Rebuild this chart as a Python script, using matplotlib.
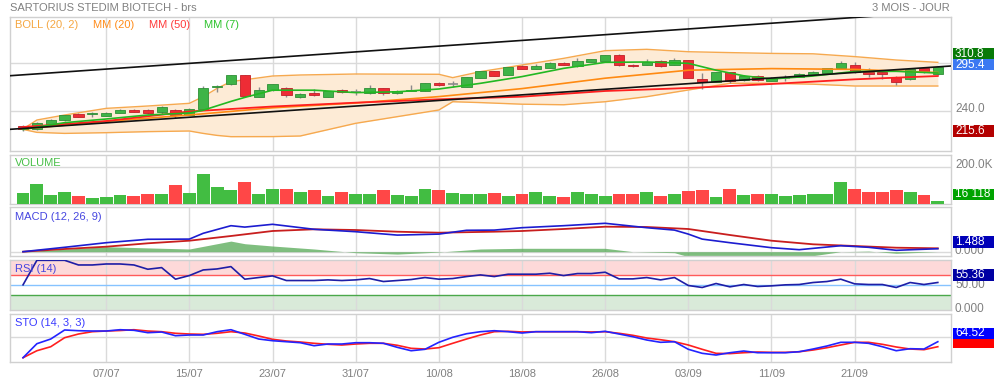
import matplotlib
matplotlib.use("Agg")
import matplotlib.pyplot as plt
import numpy as np
import pandas as pd
from matplotlib.patches import Rectangle

plt.rcParams['font.family'] = ['Liberation Sans', 'DejaVu Sans']

# ---------------- data ----------------
dates = pd.bdate_range('2020-06-29', '2020-09-29')
tick_labels = ["07/07", "15/07", "23/07", "31/07", "10/08", "18/08",
               "26/08", "03/09", "11/09", "21/09"]

opens = [221.3, 217.1, 222.5, 229, 236.3, 236, 234.2, 237.5, 241.2, 241.2,
         238.4, 241.2, 235, 242.1, 269.6, 273.75, 285, 258, 266.3, 269,
         258, 263, 258, 266, 263.5, 262, 268.3, 262, 265.2, 265,
         275.4, 273.3, 270.4, 281.7, 290, 285, 296.2, 293, 294.2, 300,
         296.25, 301.7, 303, 310, 298, 298, 302.5, 298, 303.3, 279.6,
         276.7, 288.4, 278.75, 283.75, 278, 281.7, 283, 285, 287, 294.2,
         297.5, 289, 288.75, 283, 279.6, 293.3, 286]
highs = [222.5, 226.6, 229.5, 235.5, 237, 238.5, 238.5, 242, 242.5, 242,
         246, 242, 243.3, 271, 272.9, 285.5, 285.5, 269.6, 274, 270,
         262, 267, 265.5, 267, 267, 272.5, 269, 266.5, 272.5, 275,
         276.5, 277, 282.5, 290.5, 290.5, 295.5, 297, 299, 301, 301,
         306, 305.5, 310.5, 310.8, 298.5, 304.5, 303.5, 306.5, 304, 288,
         289, 289, 285, 285, 282.5, 285, 287.5, 289.5, 293.8, 302.5,
         301.5, 293.5, 289.5, 283.5, 292.5, 294, 296]
lows = [215.6, 216, 221.5, 227.5, 232.5, 232, 233.5, 237, 238.5, 236.5,
        236, 230.8, 234.5, 241.5, 264.2, 273, 258, 257.5, 265.5, 257.9,
        255.8, 259, 257.5, 263, 260, 261.5, 260, 261.5, 264.5, 264.5,
        271.5, 270, 270, 281, 283.5, 284.5, 292.5, 292.5, 293.5, 297,
        295.5, 301, 302.5, 296.5, 294.5, 297.5, 295.5, 297.5, 281, 267,
        276, 275, 278, 277, 277.5, 277.5, 282.5, 284.5, 286.5, 293.5,
        288, 282, 280, 272.5, 279, 288, 285.5]
closes = [217.1, 225.4, 228.8, 235, 233, 237.9, 237.9, 241.2, 239.3, 237.1,
          245, 235, 242.5, 268.3, 271.7, 285, 258.75, 266, 273.75, 259.6,
          261, 259.6, 265, 263.4, 263.5, 268.3, 262, 265, 266.2, 274.6,
          272, 273.3, 282.1, 290, 284.2, 295, 293, 296.2, 300.4, 297.5,
          303, 305, 310, 297.1, 296, 301.25, 296.25, 303.75, 281.7, 276.7,
          288.4, 277.5, 283.75, 278.75, 281.7, 281.7, 286, 289, 293.3, 299.6,
          288.4, 286, 285.9, 276, 292, 288.4, 295.4]

# Bollinger bands (20, 2)
band_idx = [0, 1, 3, 6, 9, 12, 13, 14, 15, 18, 20, 24, 30, 31, 33, 36, 39,
            42, 45, 48, 51, 54, 57, 60, 63, 66]
boll_upper = [217.5, 228.75, 235, 243.3, 246.25, 249.6, 257.9, 268.3, 276.7,
              283.75, 285, 286.25, 285.9, 281.7, 289.2, 297.5, 305.8, 315.4,
              317.1, 314.1, 313, 312, 311.5, 308, 303.75, 300.8]
boll_lower = [217, 213.3, 212, 212.9, 214.2, 215, 212, 209.5, 207.9, 208,
              208.75, 224.6, 241.25, 251.6, 250.5, 248.5, 247.8, 251.6, 257.9,
              266.25, 274.6, 274.6, 273.5, 271.25, 271.25, 271.25]

mm20_idx = [0, 6, 12, 18, 24, 30, 36, 42, 48, 54, 60, 66]
mm20 = [217.5, 227, 235, 244, 250, 258, 268, 281, 291, 293, 292, 288]

mm50_idx = [0, 6, 12, 15, 18, 24, 30, 36, 42, 48, 54, 60, 66]
mm50 = [220, 227.5, 239.4, 242.5, 245.6, 250.4, 254.6, 257.9, 265, 268.75,
        273.75, 279.6, 283.75]

mm7_idx = [0, 3, 6, 9, 12, 13, 15, 16, 18, 21, 24, 27, 30, 33, 36, 39, 42,
           45, 48, 50, 52, 54, 57, 60, 63, 66]
mm7 = [217, 225.4, 230, 235, 237.5, 241, 252, 257, 266, 266, 263, 264,
       267.5, 274.6, 283, 293.3, 300.8, 301.25, 299.6, 291, 284, 280,
       283.75, 289.5, 289.6, 287.5]

trend_upper_x = [-0.94, 62.6]
trend_upper_y = [284.1, 360.0]
trend_lower_x = [-0.94, 66.93]
trend_lower_y = [217.1, 296.25]

volume_k = [59, 107, 48, 68, 44, 35, 41, 48, 44, 55.5,
            57, 104, 59, 165, 92.5, 78, 120, 57, 83, 80,
            68, 78, 44, 63, 57, 57, 78, 48, 44, 80,
            74, 61, 54, 54, 61, 46, 54, 63, 43, 41,
            63, 57, 44, 54, 54, 67, 46, 54, 70, 76,
            39, 80, 48, 54, 54, 43, 48, 54, 54, 118,
            80, 63, 68, 78, 68, 48, 16.1]
volume_dir = ("GGGGRGGGRR" "GRGGGGRGGR" "GRGRGGRGGG" "RGGGRGRGGR"
              "GGGRRGRGRR" "GRGRGGGGGG" "RRRRGRG")

macd_idx = [0, 3, 6, 9, 12, 13, 15, 16, 18, 21, 24, 27, 30, 32, 34, 36, 39,
            42, 45, 47, 48, 49, 51, 54, 56, 59, 61, 63, 66]
macd = [0, 2.2, 4.5, 6.2, 6.3, 9.2, 13, 12.3, 13.7, 11.2, 10, 8.3, 8.8,
        10.7, 10.8, 12, 13, 14.2, 12, 10.8, 8.8, 6.3, 4.5, 2, 1, 3, 2.2,
        0.7, 1.488]
signal_idx = [0, 3, 6, 9, 12, 15, 18, 21, 24, 27, 30, 34, 36, 39, 42, 45,
              48, 51, 54, 57, 60, 63, 66]
signal = [0, 1.35, 2.5, 4.2, 5.5, 7.85, 10.35, 11.2, 10.85, 10, 9.5, 10,
          10.35, 11.35, 12.5, 12.35, 11.35, 8.35, 5.5, 3.7, 2.85, 2, 1.7]
hist_idx = [0, 6, 9, 12, 15, 16, 18, 21, 24, 27, 30, 33, 36, 39, 42, 44, 47,
            48, 51, 54, 57, 59, 61, 63, 66]
hist = [0, 2.5, 1.9, 1.35, 5.3, 4, 2.85, 1.35, -0.5, -1.2, -0.2, 1.35, 1.7,
        1.7, 1.7, 0, -0.5, -2.5, -3.8, -3.5, -2.0, 0, 0.3, -0.8, 0]

rsi = [50.6, 100, 100, 100, 90.6, 90.6, 92.6, 92.6, 90.6, 82,
       85.3, 62, 69.3, 80.6, 82.6, 87.3, 62, 65.3, 68.6, 59.3,
       59.3, 59.3, 60.6, 59.3, 60.6, 63.3, 57.3, 59.3, 61.3, 65.3,
       62, 63.3, 67.3, 70.6, 67.3, 72, 72, 72, 74, 69.3,
       73.3, 73.3, 76, 62.6, 62.6, 65.3, 60.6, 65.3, 49.3, 45.3,
       53.3, 46.6, 51.3, 47.3, 48.6, 50.6, 51.3, 55.3, 57.3, 62,
       52.6, 51.3, 51.3, 45.3, 55.3, 51.3, 55.36]

sto_k = [19.4, 58.9, 72.1, 97.5, 95.5, 94.6, 94.6, 98.3, 96.6, 89.9,
         91.8, 81.4, 83.4, 83.4, 92.7, 98.3, 85.3, 72.1, 67.3, 64.5,
         61.7, 53.2, 58, 58, 61.7, 61.7, 60, 48.7, 39.1, 43.1,
         62.8, 76.9, 87, 92.7, 95.5, 92.7, 89, 92.7, 92.7, 92.7,
         92.7, 89.9, 93.8, 86.2, 78.6, 69.3, 62.8, 64.5, 43.1, 31.8,
         27.0, 33.5, 38.3, 33.5, 33.5, 33.5, 36.3, 43.9, 52.4, 62.8,
         62.8, 60, 50.4, 39.1, 44.8, 43.9, 64.52]
sto_d = [19.4, 39.1, 50.4, 75.8, 86.2, 92.7, 94.6, 96, 98.3, 94.6,
         92.7, 88.2, 86.2, 85.3, 88.2, 92.7, 89, 80.6, 71.3, 66.5,
         63.7, 60, 57.2, 55.2, 58, 60, 60, 54.4, 45.9, 43.9,
         47.6, 60, 72.1, 83.4, 92.7, 93.8, 92, 92.7, 92.7, 92.7,
         92.7, 92, 92.7, 88.2, 82.5, 74.9, 70.1, 64.5, 55.2, 43.1,
         31.8, 31, 33.5, 35.5, 34.5, 34.5, 36.3, 41.1, 47.6, 55.2,
         62.8, 62.8, 57.2, 49.6, 43.9, 42, 50.4]

# ---------------- layout ----------------
W, H = 995, 383
fig = plt.figure(figsize=(W / 100, H / 100), dpi=100)
fig.patch.set_facecolor('white')
X0, X1 = 10, 950.7
idx = np.arange(len(closes))
day_str = list(dates.strftime('%d/%m'))
tick_pos = [day_str.index(t) for t in tick_labels]

GRID = '#dadada'
SPINE = '#d0d0d0'
GRAY = '#808080'


def make_ax(top, bottom, ylim, yticks):
    ax = fig.add_axes([X0 / W, 1 - bottom / H, (X1 - X0) / W, (bottom - top) / H])
    ax.set_xlim(-0.94, 66.93)
    ax.set_ylim(*ylim)
    ax.set_xticks(tick_pos)
    ax.set_yticks(yticks)
    ax.grid(True, color=GRID, lw=1)
    ax.set_axisbelow(True)
    ax.tick_params(length=0, labelleft=False, labelbottom=False)
    for s in ax.spines.values():
        s.set_color(SPINE)
        s.set_linewidth(1)
    return ax


ax_p = make_ax(17, 151, (190, 357.5), [240, 300])
ax_v = make_ax(155, 204, (0, 268), [200])
ax_m = make_ax(207, 256, (-2.15, 22.35), [0])
ax_r = make_ax(260, 309.5, (1, 100.6), [])
ax_s = make_ax(313.7, 362.3, (6.5, 143.4), [77])

# ---------------- price panel ----------------
ax_p.fill_between(band_idx, boll_lower, boll_upper, color='#fdebd6', lw=0, zorder=1)
ax_p.plot(band_idx, boll_upper, color='#f6a94f', lw=1.0, zorder=2)
ax_p.plot(band_idx, boll_lower, color='#f6a94f', lw=1.0, zorder=2)

GREEN = '#3fb447'
GREEN_E = '#2e8f36'
RED = '#ee2c35'
RED_E = '#c11f27'
for i in idx:
    o, h, l, c = opens[i], highs[i], lows[i], closes[i]
    ax_p.vlines(i, l, h, color='#8a8a8a', lw=1, zorder=3)
    if c > o:
        ax_p.bar(i, c - o, bottom=o, width=0.74, color=GREEN, edgecolor=GREEN_E,
                 lw=0.6, zorder=4)
    elif c < o:
        ax_p.bar(i, o - c, bottom=c, width=0.74, color=RED, edgecolor=RED_E,
                 lw=0.6, zorder=4)
    else:
        ax_p.hlines(o, i - 0.37, i + 0.37, color='#8a8a8a', lw=1.2, zorder=4)

ax_p.plot(mm20_idx, mm20, color='#ff8a12', lw=1.2, zorder=5)
ax_p.plot(mm50_idx, mm50, color='#ff1f1f', lw=1.3, zorder=5)
ax_p.plot(mm7_idx, mm7, color='#22b822', lw=1.2, zorder=5)
ax_p.plot(trend_upper_x, trend_upper_y, color='#111111', lw=1.2, zorder=6)
ax_p.plot(trend_lower_x, trend_lower_y, color='#111111', lw=1.2, zorder=6)

# ---------------- volume ----------------
vcol = ['#42bd42' if d == 'G' else '#ff4747' for d in volume_dir]
ax_v.bar(idx, volume_k, width=0.93, color=vcol, zorder=3)

# ---------------- MACD ----------------
ax_m.fill_between(hist_idx, 0, hist, color='#5fae5f', alpha=0.8, lw=0, zorder=2)
ax_m.plot(signal_idx, signal, color='#c81e1e', lw=1.3, zorder=3)
ax_m.plot(macd_idx, macd, color='#1c1cd0', lw=1.2, zorder=4)

# ---------------- RSI ----------------
ax_r.axhspan(70, 101, color='#fdd9d9', lw=0, zorder=0)
ax_r.axhspan(0, 30, color='#d9ead9', lw=0, zorder=0)
ax_r.axhline(70, color='#ff5a5a', lw=1, zorder=2)
ax_r.axhline(50, color='#86c3ff', lw=1, zorder=2)
ax_r.axhline(30, color='#4aa84a', lw=1, zorder=2)
ax_r.plot(idx, rsi, color='#1e1ea6', lw=1.2, zorder=4)

# ---------------- STO ----------------
ax_s.plot(idx, sto_d, color='#ff1f1f', lw=1.2, zorder=3)
ax_s.plot(idx, sto_k, color='#2323ff', lw=1.2, zorder=4)

ax_s.tick_params(labelbottom=True, pad=5, labelsize=8, labelcolor=GRAY)
ax_s.set_xticklabels(tick_labels)

# ---------------- texts ----------------
def ftext(x, y, s, color, ha='left', size=8, z=10):
    fig.text(x / W, 1 - y / H, s, color=color, ha=ha, va='center', fontsize=size, zorder=z)

ftext(10, 8, "SARTORIUS STEDIM BIOTECH - brs", GRAY)
ftext(950, 8, "3 MOIS - JOUR", GRAY, ha='right')
ftext(15, 25, "BOLL (20, 2)", '#f5a742')
ftext(93, 25, "MM (20)", '#ff8c1a')
ftext(149, 25, "MM (50)", '#ff3b3b')
ftext(204, 25, "MM (7)", '#2ec42e')
ftext(15, 163, "VOLUME", '#48bf48')
ftext(15, 216.5, "MACD (12, 26, 9)", '#4646e0')
ftext(15, 269.5, "RSI (14)", '#4646e0')
ftext(15, 322.5, "STO (14, 3, 3)", '#3a3aff')

# right-side labels: gray scale texts first, then value boxes on top
ftext(955, 109.3, "240.0", GRAY, size=8.5)
ftext(955, 165.5, "200.0K", GRAY, size=8.5)
ftext(955, 251.5, "0.000", GRAY, size=8.5)
ftext(955, 285, "50.00", GRAY, size=8.5)
ftext(955, 308.5, "0.000", GRAY, size=8.5)


def box(top, bottom, color, text=None, z=20):
    fig.patches.append(Rectangle((952.7 / W, 1 - bottom / H), (995 - 952.7) / W,
                                 (bottom - top) / H, transform=fig.transFigure,
                                 facecolor=color, edgecolor='none', zorder=z))
    if text:
        fig.text(955 / W, 1 - (top + bottom) / 2 / H, text, color='white',
                 ha='left', va='center', fontsize=8.5, zorder=z + 1)


box(48.3, 59, '#087a08', "310.8")
box(59, 70, '#3b79f2', "295.4")
box(124.5, 136.5, '#b30000', "215.6")
box(188.5, 199.5, '#00a300', "16 118")
box(235.7, 247.7, '#0000b8', "1.488")
box(269, 281, '#0000a3', "55.36")
box(339, 347.7, '#ff0000', None, z=18)
box(327.7, 339, '#0000ff', "64.52")

fig.savefig('out.png', dpi=100, facecolor='white')
